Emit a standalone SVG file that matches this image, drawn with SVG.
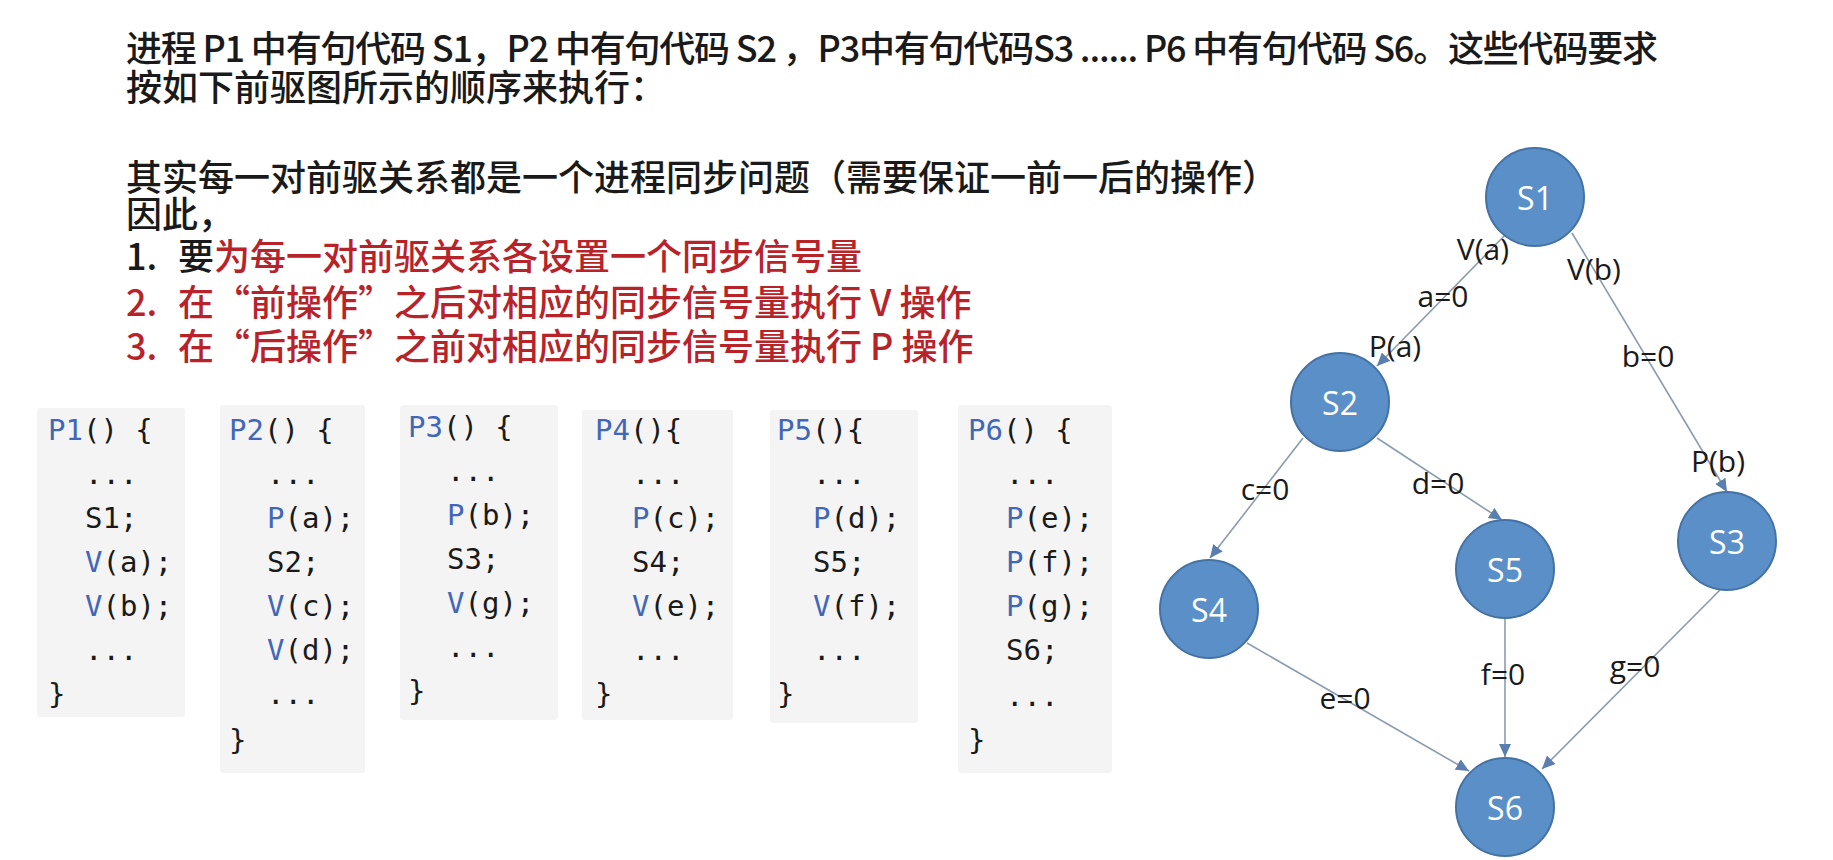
<svg xmlns="http://www.w3.org/2000/svg" width="1833" height="860" viewBox="0 0 1833 860">
<style>
.body{font-family:"Noto Sans CJK SC","Noto Sans",sans-serif;font-size:36px;font-weight:500;fill:#1a1a1a}
.red{fill:#b8232a}
.code{font-family:"DejaVu Sans Mono","Liberation Mono",monospace;font-size:29px;fill:#1a1a1a}
.kw{fill:#4266b8}
.bg{fill:#f4f4f4}
.node{fill:#5b8fc7;stroke:#4472a4;stroke-width:2}
.ntxt{font-family:"Open Sans","Noto Sans",sans-serif;font-size:32px;fill:#ffffff;text-anchor:middle;dominant-baseline:central}
.edge{stroke:#8b9bb0;stroke-width:1.6;fill:none;marker-end:url(#arr)}
.lbl{font-family:"Open Sans","Noto Sans",sans-serif;font-size:30px;fill:#1a1a1a;text-anchor:middle;dominant-baseline:central}
</style>
<defs>
<marker id="arr" markerUnits="userSpaceOnUse" markerWidth="14" markerHeight="12" refX="13" refY="6" orient="auto">
<path d="M0,0 L13,6 L0,12 Z" fill="#5a7fae"/>
</marker>
</defs>
<rect width="1833" height="860" fill="#ffffff"/>

<g id="text">
<text class="body" x="126" y="62" textLength="1532" lengthAdjust="spacing">进程 P1 中有句代码 S1，P2 中有句代码 S2 ，P3中有句代码S3 ...... P6 中有句代码 S6。这些代码要求</text>
<text class="body" x="126" y="101">按如下前驱图所示的顺序来执行：</text>
<text class="body" x="126" y="191">其实每一对前驱关系都是一个进程同步问题（需要保证一前一后的操作）</text>
<text class="body" x="126" y="228">因此，</text>
<text class="body" y="270"><tspan x="126">1.</tspan><tspan x="178">要</tspan><tspan class="red">为每一对前驱关系各设置一个同步信号量</tspan></text>
<text class="body red" y="316"><tspan x="126">2.</tspan><tspan x="178">在“前操作”之后对相应的同步信号量执行 V 操作</tspan></text>
<text class="body red" y="360"><tspan x="126">3.</tspan><tspan x="178">在“后操作”之前对相应的同步信号量执行 P 操作</tspan></text>
</g>

<g id="P1code">
<rect class="bg" x="37" y="408" width="148" height="309" rx="3"/>
<text class="code" x="48" y="440"><tspan class="kw">P1</tspan>() {</text>
<text class="code" x="85" y="484">...</text>
<text class="code" x="85" y="528">S1;</text>
<text class="code" x="85" y="572"><tspan class="kw">V</tspan>(a);</text>
<text class="code" x="85" y="616"><tspan class="kw">V</tspan>(b);</text>
<text class="code" x="85" y="660">...</text>
<text class="code" x="48" y="704">}</text>
</g>

<g id="P2code">
<rect class="bg" x="220" y="405" width="145" height="368" rx="3"/>
<text class="code" x="229" y="440"><tspan class="kw">P2</tspan>() {</text>
<text class="code" x="267" y="484">...</text>
<text class="code" x="267" y="528"><tspan class="kw">P</tspan>(a);</text>
<text class="code" x="267" y="572">S2;</text>
<text class="code" x="267" y="616"><tspan class="kw">V</tspan>(c);</text>
<text class="code" x="267" y="660"><tspan class="kw">V</tspan>(d);</text>
<text class="code" x="267" y="704">...</text>
<text class="code" x="229" y="750">}</text>
</g>

<g id="P3code">
<rect class="bg" x="400" y="405" width="158" height="315" rx="3"/>
<text class="code" x="408" y="437"><tspan class="kw">P3</tspan>() {</text>
<text class="code" x="447" y="481">...</text>
<text class="code" x="447" y="525"><tspan class="kw">P</tspan>(b);</text>
<text class="code" x="447" y="569">S3;</text>
<text class="code" x="447" y="613"><tspan class="kw">V</tspan>(g);</text>
<text class="code" x="447" y="657">...</text>
<text class="code" x="408" y="701">}</text>
</g>

<g id="P4code">
<rect class="bg" x="582" y="410" width="151" height="310" rx="3"/>
<text class="code" x="595" y="440"><tspan class="kw">P4</tspan>(){</text>
<text class="code" x="632" y="484">...</text>
<text class="code" x="632" y="528"><tspan class="kw">P</tspan>(c);</text>
<text class="code" x="632" y="572">S4;</text>
<text class="code" x="632" y="616"><tspan class="kw">V</tspan>(e);</text>
<text class="code" x="632" y="660">...</text>
<text class="code" x="595" y="704">}</text>
</g>

<g id="P5code">
<rect class="bg" x="770" y="410" width="148" height="313" rx="3"/>
<text class="code" x="777" y="440"><tspan class="kw">P5</tspan>(){</text>
<text class="code" x="813" y="484">...</text>
<text class="code" x="813" y="528"><tspan class="kw">P</tspan>(d);</text>
<text class="code" x="813" y="572">S5;</text>
<text class="code" x="813" y="616"><tspan class="kw">V</tspan>(f);</text>
<text class="code" x="813" y="660">...</text>
<text class="code" x="777" y="704">}</text>
</g>

<g id="P6code">
<rect class="bg" x="958" y="405" width="154" height="368" rx="3"/>
<text class="code" x="968" y="440"><tspan class="kw">P6</tspan>() {</text>
<text class="code" x="1006" y="484">...</text>
<text class="code" x="1006" y="528"><tspan class="kw">P</tspan>(e);</text>
<text class="code" x="1006" y="572"><tspan class="kw">P</tspan>(f);</text>
<text class="code" x="1006" y="616"><tspan class="kw">P</tspan>(g);</text>
<text class="code" x="1006" y="660">S6;</text>
<text class="code" x="1006" y="706">...</text>
<text class="code" x="968" y="750">}</text>
</g>

<g id="connectors">
<line class="edge" x1="1508" y1="232" x2="1377" y2="366"/>
<line class="edge" x1="1572" y1="233" x2="1727" y2="492"/>
<line class="edge" x1="1303" y1="438" x2="1210" y2="558"/>
<line class="edge" x1="1377" y1="438" x2="1502" y2="520"/>
<line class="edge" x1="1247" y1="643" x2="1469" y2="771"/>
<line class="edge" x1="1505" y1="619" x2="1505" y2="757"/>
<line class="edge" x1="1720" y1="590" x2="1542" y2="769"/>
<text class="lbl" x="1483" y="248">V(a)</text>
<text class="lbl" x="1443" y="295">a=0</text>
<text class="lbl" x="1395" y="345">P(a)</text>
<text class="lbl" x="1594" y="268">V(b)</text>
<text class="lbl" x="1648" y="355">b=0</text>
<text class="lbl" x="1718" y="460">P(b)</text>
<text class="lbl" x="1265" y="488">c=0</text>
<text class="lbl" x="1438" y="482">d=0</text>
<text class="lbl" x="1345" y="697">e=0</text>
<text class="lbl" x="1503" y="673">f=0</text>
<text class="lbl" x="1635" y="665">g=0</text>
</g>

<g id="S1"><circle class="node" cx="1535" cy="197" r="49"/><text class="ntxt" x="1535" y="197">S1</text></g>
<g id="S2"><circle class="node" cx="1340" cy="402" r="49"/><text class="ntxt" x="1340" y="402">S2</text></g>
<g id="S3"><circle class="node" cx="1727" cy="541" r="49"/><text class="ntxt" x="1727" y="541">S3</text></g>
<g id="S4"><circle class="node" cx="1209" cy="609" r="49"/><text class="ntxt" x="1209" y="609">S4</text></g>
<g id="S5"><circle class="node" cx="1505" cy="569" r="49"/><text class="ntxt" x="1505" y="569">S5</text></g>
<g id="S6"><circle class="node" cx="1505" cy="807" r="49"/><text class="ntxt" x="1505" y="807">S6</text></g>
</svg>
